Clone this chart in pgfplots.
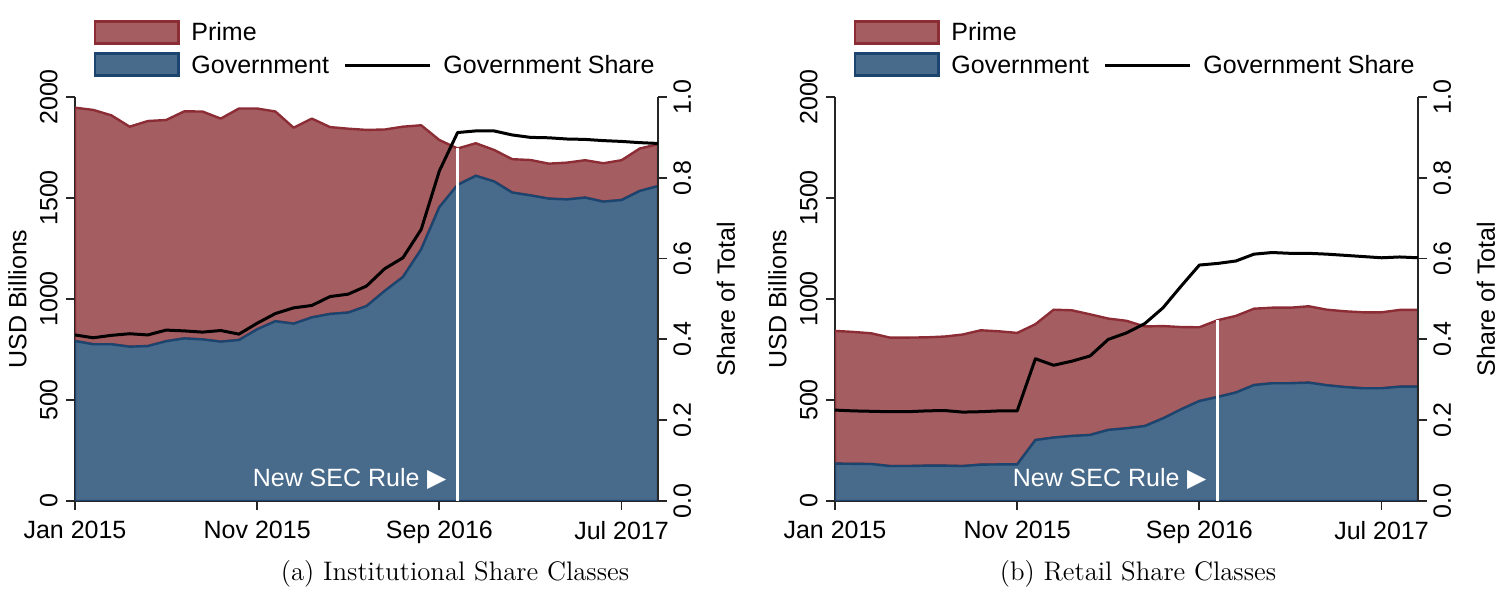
\documentclass[border=0pt]{standalone}
\usepackage{pgfplots}
\pgfplotsset{compat=1.18}
\usepackage{pgfplotstable}
\usepackage{fontspec}
\newfontfamily\arial{Liberation Sans}
\newfontfamily\dejavu{DejaVu Sans}
\newcommand\lbl{\arial\fontsize{12.5}{15}\selectfont}
\definecolor{primefill}{HTML}{A45D61}
\definecolor{primeedge}{HTML}{8C2D36}
\definecolor{govfill}{HTML}{486A8B}
\definecolor{govedge}{HTML}{1B456E}

\pgfplotstableread{
m gov prime share
0 792 1155 0.411
1 776 1160 0.404
2 776 1133 0.410
3 764 1089 0.414
4 767 1114 0.411
5 791 1095 0.423
6 805 1124 0.421
7 800 1128 0.418
8 789 1104 0.422
9 797 1146 0.413
10 850 1093 0.440
11 890 1038 0.464
12 878 970 0.478
13 909 984 0.484
14 926 925 0.506
15 933 910 0.512
16 965 872 0.532
17 1040 799 0.575
18 1109 744 0.602
19 1246 614 0.672
20 1455 332 0.817
21 1565 180 0.912
22 1610 161 0.916
23 1582 156 0.916
24 1527 165 0.906
25 1513 175 0.900
26 1497 173 0.899
27 1493 182 0.896
28 1502 185 0.895
29 1482 190 0.892
30 1490 197 0.890
31 1535 210 0.887
32 1559 207 0.885
}\insttable

\pgfplotstableread{
m gov prime share
0 185 657 0.225
1 184 653 0.223
2 183 647 0.222
3 173 636 0.221
4 173 636 0.221
5 175 635 0.223
6 175 639 0.224
7 173 651 0.220
8 180 665 0.221
9 181 659 0.223
10 181 651 0.223
11 302 573 0.352
12 314 633 0.336
13 322 622 0.346
14 327 597 0.359
15 352 551 0.400
16 360 532 0.416
17 371 493 0.439
18 409 457 0.478
19 454 407 0.532
20 495 365 0.584
21 515 380 0.588
22 537 379 0.594
23 574 378 0.611
24 583 374 0.615
25 583 374 0.613
26 586 378 0.613
27 573 374 0.611
28 564 375 0.608
29 558 376 0.605
30 558 376 0.602
31 566 380 0.604
32 566 380 0.602
}\retailtable

\pgfplotsset{
  base/.style={
    scale only axis, width=291.5pt, height=202pt,
    anchor=south west,
    xmin=0, xmax=32,
    axis line style={-, line width=0.9pt, black!85},
    tick style={line width=0.9pt, black!85},
    tick align=outside, major tick length=4.5pt,
    tick label style={font=\lbl},
    /pgf/number format/assume math mode=true,
    /pgf/number format/1000 sep={},
  },
  leftax/.style={
    base,
    axis x line*=bottom, axis y line*=left,
    ymin=0, ymax=2000, ytick={0,500,1000,1500,2000},
    xtick={0,10,20,30},
    xticklabels={Jan 2015, Nov 2015, Sep 2016, Jul 2017},
    xticklabel style={anchor=north, inner xsep=0pt, inner ysep=0pt, yshift=-5.5pt},
    yticklabel style={rotate=90, anchor=south, inner xsep=0pt, inner ysep=4pt},
    ylabel={USD Billions},
    every axis y label/.style={at={(axis description cs:-0.0986,0.5)}, rotate=90, anchor=center, font=\lbl},
    stack plots=y,
  },
  rightax/.style={
    base,
    axis x line=none, axis y line*=right,
    ymin=0, ymax=1, ytick={0,0.2,0.4,0.6,0.8,1},
    yticklabel style={rotate=90, anchor=north, inner xsep=0pt, inner ysep=3pt,
      /pgf/number format/.cd, fixed, fixed zerofill, precision=1},
    ylabel={Share of Total},
    every axis y label/.style={at={(axis description cs:1.1166,0.5)}, rotate=90, anchor=center, font=\lbl},
  },
}

\newcommand\legendat[1]{%
  \begin{scope}[xshift=#1]
    \draw[fill=primefill, draw=primeedge, line width=1.2pt] (47.6pt,274.3pt) rectangle (89.2pt,285.2pt);
    \draw[fill=govfill, draw=govedge, line width=1.2pt] (47.6pt,258.3pt) rectangle (89.2pt,269.2pt);
    \draw[black, line width=1.5pt] (172.5pt,263pt) -- (215pt,263pt);
    \node[anchor=base west, inner sep=0pt, font=\lbl] at (95.5pt,275.5pt) {Prime};
    \node[anchor=base west, inner sep=0pt, font=\lbl] at (95.5pt,259pt) {Government};
    \node[anchor=base west, inner sep=0pt, font=\lbl] at (221.5pt,259pt) {Government Share};
  \end{scope}}

\newcommand\secrule{New SEC Rule\hspace{0.3em}{\dejavu\fontsize{12.5}{14}\selectfont ▶}}

\begin{document}
\begin{tikzpicture}
\path[use as bounding box] (0,0) rectangle (752.5pt,296pt);

% ---------- Panel (a) ----------
\begin{axis}[leftax, at={(37.5pt,45.5pt)}]
  \addplot[fill=govfill, draw=govedge, line width=1.2pt, line join=round] table[x=m,y=gov]{\insttable} \closedcycle;
  \addplot[fill=primefill, draw=primeedge, line width=1.2pt, line join=round] table[x=m,y=prime]{\insttable} \closedcycle;
  \addplot[draw=govedge, line width=1.2pt, line join=round, stack plots=false] table[x=m,y=gov]{\insttable};
  \coordinate (secA) at (axis cs:20.4,107);
  \coordinate (ruleAbot) at (axis cs:21,0);
  \coordinate (ruleAtop) at (axis cs:21,1745);
\end{axis}
\draw[white, line width=1.3pt] (ruleAbot) -- (ruleAtop);
\node[anchor=east, text=white, font=\lbl, inner sep=0pt] at (secA) {\secrule};
\begin{axis}[rightax, at={(37.5pt,45.5pt)}]
  \addplot[black, line width=1.5pt, line join=round] table[x=m,y=share]{\insttable};
\end{axis}

% ---------- Panel (b) ----------
\begin{axis}[leftax, at={(417.5pt,45.5pt)}]
  \addplot[fill=govfill, draw=govedge, line width=1.2pt, line join=round] table[x=m,y=gov]{\retailtable} \closedcycle;
  \addplot[fill=primefill, draw=primeedge, line width=1.2pt, line join=round] table[x=m,y=prime]{\retailtable} \closedcycle;
  \addplot[draw=govedge, line width=1.2pt, line join=round, stack plots=false] table[x=m,y=gov]{\retailtable};
  \coordinate (secB) at (axis cs:20.4,107);
  \coordinate (ruleBbot) at (axis cs:21,0);
  \coordinate (ruleBtop) at (axis cs:21,895);
\end{axis}
\draw[white, line width=1.3pt] (ruleBbot) -- (ruleBtop);
\node[anchor=east, text=white, font=\lbl, inner sep=0pt] at (secB) {\secrule};
\begin{axis}[rightax, at={(417.5pt,45.5pt)}]
  \addplot[black, line width=1.5pt, line join=round] table[x=m,y=share]{\retailtable};
\end{axis}

\legendat{0pt}
\legendat{380pt}

\node[font=\fontsize{13.4}{16}\selectfont] at (227.5pt,9pt) {(a) Institutional Share Classes};
\node[font=\fontsize{13.4}{16}\selectfont] at (569pt,9pt) {(b) Retail Share Classes};
\end{tikzpicture}
\end{document}
